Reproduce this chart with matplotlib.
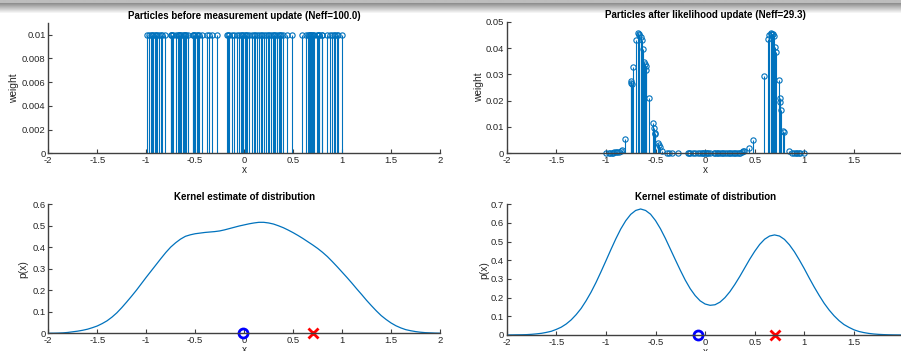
import numpy as np
import matplotlib
matplotlib.use("Agg")
import matplotlib.pyplot as plt

plt.rcParams['font.family'] = ['Liberation Sans', 'DejaVu Sans']
plt.rcParams['axes.unicode_minus'] = False

# ---------------- data ----------------
particle_x = [
    -0.995, -0.97, -0.955, -0.94, -0.93, -0.915, -0.90, -0.885, -0.87, -0.85, -0.835, -0.81,
    -0.745, -0.742, -0.738, -0.725, -0.70, -0.678, -0.67, -0.662, -0.65, -0.64, -0.625, -0.612,
    -0.607, -0.600, -0.596, -0.57, -0.527, -0.518, -0.510, -0.505, -0.478, -0.468, -0.458, -0.43,
    -0.38, -0.36, -0.33, -0.275,
    -0.175, -0.16, -0.15, -0.12, -0.10, -0.07, -0.05, -0.035, -0.02, -0.01, 0.005, 0.02, 0.03,
    0.05, 0.085, 0.10, 0.115, 0.13, 0.15, 0.17, 0.18, 0.20, 0.22, 0.24, 0.25, 0.27, 0.29, 0.30,
    0.32, 0.34, 0.355, 0.37, 0.38, 0.395, 0.44, 0.487,
    0.594, 0.634, 0.648, 0.66, 0.668, 0.675, 0.685, 0.695, 0.705, 0.715, 0.742, 0.756, 0.76,
    0.768, 0.79, 0.795, 0.85, 0.88, 0.90, 0.915, 0.93, 0.945, 0.96, 0.995,
]
prior_weight = [0.01] * len(particle_x)
posterior_weight = [
    0.0001, 0.0002, 0.0002, 0.0003, 0.0003, 0.0004, 0.0004, 0.0005, 0.0006, 0.0009, 0.0011, 0.0053,
    0.0275, 0.0268, 0.0262, 0.0328, 0.0430, 0.0456, 0.0453, 0.0450, 0.0440, 0.0430, 0.0395, 0.0348,
    0.0340, 0.0333, 0.0318, 0.0209, 0.0115, 0.0098, 0.0077, 0.0074, 0.0038, 0.0031, 0.0025, 0.0010,
    0.0003, 0.0002, 0.0001, 0.0000,
    0.0, 0.0, 0.0, 0.0, 0.0, 0.0, 0.0, 0.0, 0.0, 0.0, 0.0, 0.0, 0.0,
    0.0, 0.0, 0.0, 0.0, 0.0, 0.0, 0.0, 0.0, 0.0, 0.0, 0.0, 0.0, 0.0, 0.0, 0.0,
    0.0001, 0.0001, 0.0003, 0.0005, 0.0007, 0.0009, 0.0022, 0.0050,
    0.0293, 0.0435, 0.0450, 0.0453, 0.0456, 0.0455, 0.0452, 0.0445, 0.0402, 0.0384, 0.0277, 0.0210,
    0.0195, 0.0165, 0.0085, 0.0080, 0.0009, 0.0003, 0.0002, 0.0002, 0.0001, 0.0001, 0.0001, 0.0001,
]

kde_x = [round(-2.0 + 0.05 * i, 2) for i in range(81)]
kde_prior = [
    0.000, 0.0005, 0.001, 0.002, 0.004, 0.007, 0.010, 0.014, 0.019, 0.026,
    0.034, 0.045, 0.058, 0.075, 0.095, 0.119, 0.145, 0.172, 0.200, 0.230,
    0.260, 0.289, 0.318, 0.347, 0.375, 0.400, 0.420, 0.437, 0.450, 0.457,
    0.462, 0.465, 0.468, 0.470, 0.472, 0.475, 0.480, 0.486, 0.492, 0.498,
    0.503, 0.508, 0.512, 0.515, 0.515, 0.512, 0.507, 0.499, 0.490, 0.479,
    0.467, 0.454, 0.440, 0.425, 0.410, 0.394, 0.376, 0.356, 0.333, 0.309,
    0.284, 0.259, 0.233, 0.206, 0.180, 0.153, 0.128, 0.104, 0.082, 0.064,
    0.048, 0.035, 0.025, 0.017, 0.012, 0.008, 0.005, 0.003, 0.002, 0.001, 0.0005]
kde_post = [
    0.000, 0.0005, 0.001, 0.0013, 0.002, 0.0036, 0.006, 0.009, 0.014, 0.020,
    0.030, 0.042, 0.059, 0.081, 0.109, 0.142, 0.183, 0.229, 0.281, 0.338,
    0.397, 0.457, 0.515, 0.568, 0.612, 0.646, 0.667, 0.675, 0.667, 0.647,
    0.613, 0.569, 0.517, 0.460, 0.403, 0.347, 0.294, 0.248, 0.211, 0.183,
    0.166, 0.159, 0.162, 0.176, 0.200, 0.232, 0.271, 0.314, 0.360, 0.406,
    0.448, 0.485, 0.513, 0.530, 0.536, 0.530, 0.512, 0.483, 0.446, 0.402,
    0.355, 0.305, 0.257, 0.212, 0.170, 0.134, 0.103, 0.077, 0.056, 0.041,
    0.028, 0.019, 0.013, 0.0085, 0.0054, 0.0034, 0.0021, 0.0012, 0.0007, 0.0004, 0.0002]

estimate_prior = [-0.015]
estimate_post = [-0.07]
truth = [0.705]

x_ticks = [-2, -1.5, -1, -0.5, 0, 0.5, 1, 1.5, 2]
x_ticklabels = ['-2', '-1.5', '-1', '-0.5', '0', '0.5', '1', '1.5', '2']
y_ticks_tl = [0, 0.002, 0.004, 0.006, 0.008, 0.01]
y_labels_tl = ['0', '0.002', '0.004', '0.006', '0.008', '0.01']
y_ticks_tr = [0, 0.01, 0.02, 0.03, 0.04, 0.05]
y_labels_tr = ['0', '0.01', '0.02', '0.03', '0.04', '0.05']
y_ticks_bl = [0, 0.1, 0.2, 0.3, 0.4, 0.5, 0.6]
y_labels_bl = ['0', '0.1', '0.2', '0.3', '0.4', '0.5', '0.6']
y_ticks_br = [0, 0.1, 0.2, 0.3, 0.4, 0.5, 0.6, 0.7]
y_labels_br = ['0', '0.1', '0.2', '0.3', '0.4', '0.5', '0.6', '0.7']

titles = ['Particles before measurement update (Neff=100.0)',
          'Particles after likelihood update (Neff=29.3)',
          'Kernel estimate of distribution',
          'Kernel estimate of distribution']

# ---------------- figure ----------------
W, H = 901, 351
fig = plt.figure(figsize=(W / 100, H / 100), dpi=100)

# screenshot shadow band at top
band = fig.add_axes([0, 1 - 14 / H, 1, 14 / H])
grad = np.concatenate([np.full(3, 0.74), np.linspace(0.56, 1.0, 11)])[:, None] * np.ones((1, 10))
band.imshow(grad, cmap='gray', vmin=0, vmax=1, aspect='auto', interpolation='bilinear')
band.axis('off')

def px_axes(left, right, top, bottom):
    return fig.add_axes([left / W, 1 - bottom / H, (right - left) / W, (bottom - top) / H])

ax_tl = px_axes(48.3, 440.0, 22.8, 153.3)
ax_tr = px_axes(506.7, 903.5, 21.7, 153.3)
ax_bl = px_axes(48.3, 440.0, 204.0, 333.3)
ax_br = px_axes(506.7, 903.5, 204.3, 335.0)

BLUE = '#0072BD'
AXC = '#404040'

def style(ax, yt, yl, ylim, title, ylabel, ylab_x, nxt):
    ax.set_xlim(-2, 2)
    ax.set_ylim(*ylim)
    ax.set_xticks(x_ticks[:nxt])
    ax.set_xticklabels(x_ticklabels[:nxt])
    ax.set_yticks(yt)
    ax.set_yticklabels(yl)
    for s in ['top', 'right']:
        ax.spines[s].set_visible(False)
    for s in ['left', 'bottom']:
        ax.spines[s].set_color(AXC)
        ax.spines[s].set_linewidth(1.0)
    ax.tick_params(direction='in', length=3, width=0.8, color=AXC,
                   labelsize=6.8, labelcolor='#262626', pad=2)
    ax.set_title(title, fontsize=7.0, fontweight='bold', pad=3)
    ax.set_xlabel('x', fontsize=7.2, color='#262626', labelpad=0)
    ax.set_ylabel(ylabel, fontsize=7.4, color='#262626')
    ax.yaxis.set_label_coords(ylab_x, 0.5)
    ax.patch.set_alpha(0)

def stems(ax, xs, ws):
    ml, sl, bl = ax.stem(xs, ws, linefmt='-', markerfmt='o', basefmt=' ')
    sl.set_color(BLUE)
    sl.set_linewidth(0.8)
    ml.set_markerfacecolor('none')
    ml.set_markeredgecolor(BLUE)
    ml.set_markersize(3.8)
    ml.set_markeredgewidth(0.8)
    ml.set_clip_on(False)

stems(ax_tl, particle_x, prior_weight)
style(ax_tl, y_ticks_tl, y_labels_tl, (0, 0.011), titles[0], 'weight', -0.075, 9)

stems(ax_tr, particle_x, posterior_weight)
style(ax_tr, y_ticks_tr, y_labels_tr, (0, 0.05), titles[1], 'weight', -0.057, 8)

ax_bl.plot(kde_x, kde_prior, color=BLUE, lw=0.9)
ax_bl.plot(estimate_prior, [0], 'o', color='#0000FF', mfc='none', ms=6.5, mew=2, clip_on=False)
ax_bl.plot(truth, [0], 'x', color='#FF0000', ms=7, mew=2, clip_on=False)
style(ax_bl, y_ticks_bl, y_labels_bl, (0, 0.6), titles[2], 'p(x)', -0.05, 9)

ax_br.plot(kde_x, kde_post, color=BLUE, lw=0.9)
ax_br.plot(estimate_post, [0], 'o', color='#0000FF', mfc='none', ms=6.5, mew=2, clip_on=False)
ax_br.plot(truth, [0], 'x', color='#FF0000', ms=7, mew=2, clip_on=False)
style(ax_br, y_ticks_br, y_labels_br, (0, 0.7), titles[3], 'p(x)', -0.045, 8)

fig.savefig('out.png', dpi=100)
